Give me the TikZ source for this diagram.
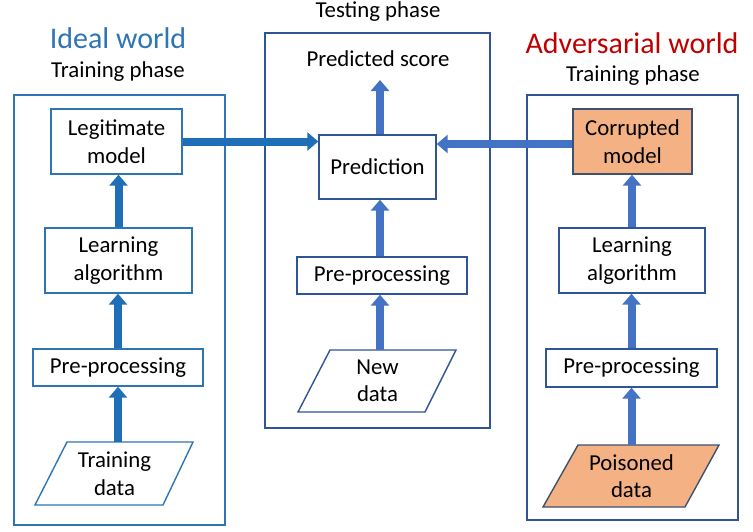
\documentclass[tikz,border=0pt]{standalone}
\usepackage{fontspec}
\setmainfont{Carlito}
\usetikzlibrary{arrows.meta,calc}
\definecolor{lblue}{HTML}{2E75B6}
\definecolor{larr}{HTML}{1F6FB8}
\definecolor{dblue}{HTML}{2F5597}
\definecolor{marr}{HTML}{4472C4}
\definecolor{redt}{HTML}{C00000}
\definecolor{orng}{HTML}{F4B183}
\definecolor{obord}{HTML}{3F5170}
\tikzset{
  x=1pt,y=-1pt,
  every node/.style={font=\fontsize{22.8}{27.5}\selectfont, text=black, align=center, inner sep=0pt},
  lbox/.style={draw=lblue, line width=1.4pt},
  mbox/.style={draw=dblue, line width=1.4pt},
  lcont/.style={draw=lblue, line width=2.4pt},
  mcont/.style={draw=dblue, line width=2.4pt},
  larrow/.style={draw=larr, line width=8pt, -{Triangle[width=18pt,length=11pt]}},
  marrow/.style={draw=marr, line width=8pt, -{Triangle[width=18pt,length=11pt]}},
  title/.style={font=\fontsize{30}{34}\selectfont},
}
\begin{document}
\begin{tikzpicture}
\useasboundingbox (0,0) rectangle (753,531);
\fill[white] (0,0) rectangle (753,531);
% containers
\draw[lcont] (14,95) rectangle (225,525);
\draw[mcont] (265,33) rectangle (490,428);
\draw[mcont] (527,95) rectangle (738,520);
% titles
\node[title, text=lblue] (tl) at (118,38) {Ideal world};
\node (tlp) at (118,72) {Training phase};
\node (tmp) at (378,12) {Testing phase};
\node[title, text=redt] (tr) at (632,43) {Adversarial world};
\node (trp) at (633,76) {Training phase};
% left column
\node[lbox, minimum width=131pt, minimum height=65pt] (lm) at (116.5,141.5) {Legitimate\\model};
\node[lbox, minimum width=147pt, minimum height=65pt] (la) at (118.5,260.5) {Learning\\algorithm};
\node[lbox, minimum width=170pt, minimum height=37pt] (lp) at (118,367.5) {Pre-processing};
\draw[lbox] (67,442) -- (193,442) -- (163,505) -- (35,505) -- cycle;
\node[minimum height=63pt] (ltd) at (114.5,473.5) {Training\\data};
% middle column
\node (ps) at (378,59) {Predicted score};
\coordinate (pst) at (380,80);
\node[mbox, minimum width=117pt, minimum height=64pt] (pr) at (377.5,167) {Prediction};
\node[mbox, minimum width=170pt, minimum height=37pt] (mp) at (382,275.5) {Pre-processing};
\draw[mbox] (330,350) -- (456,350) -- (425,412) -- (298,412) -- cycle;
\node[minimum height=62pt] (nd) at (377.5,381) {New\\data};
% right column
\node[draw=obord, line width=1.4pt, fill=orng, minimum width=119pt, minimum height=65pt] (cm) at (632.5,141.5) {Corrupted\\model};
\node[mbox, minimum width=146pt, minimum height=65pt] (ra) at (632,260.5) {Learning\\algorithm};
\node[mbox, minimum width=171pt, minimum height=38pt] (rp) at (631.5,368) {Pre-processing};
\draw[draw=obord, line width=1.4pt, fill=orng] (578,445) -- (719,445) -- (685,507) -- (543,507) -- cycle;
\node[minimum height=62pt] (pd) at (631.5,476) {Poisoned\\data};
% left arrows
\draw[larrow] (lp.south |- ltd.north) -- (lp.south);
\draw[larrow] (lp.north) -- (lp.north |- la.south);
\draw[larrow] (la.north) -- (la.north |- lm.south);
\draw[larrow] (lm.east) -- (lm.east -| pr.west);
% middle arrows
\coordinate (ndt) at ($(nd.north -| mp.south)+(-2,0)$);
\draw[marrow] (ndt) -- (ndt |- mp.south);
\coordinate (mpt) at ($(mp.north -| pr.south)+(2.5,0)$);
\draw[marrow] (mpt) -- (mpt |- pr.south);
\draw[marrow] (pr.north -| pst) -- (pst);
\coordinate (cmw) at ($(cm.west)+(0,2.5)$);
\draw[marrow] (cmw) -- (cmw -| pr.east);
% right arrows
\draw[marrow] (rp.south |- pd.north) -- (rp.south);
\draw[marrow] (rp.north) -- (rp.north |- ra.south);
\draw[marrow] (ra.north) -- (ra.north |- cm.south);
\end{tikzpicture}
\end{document}
